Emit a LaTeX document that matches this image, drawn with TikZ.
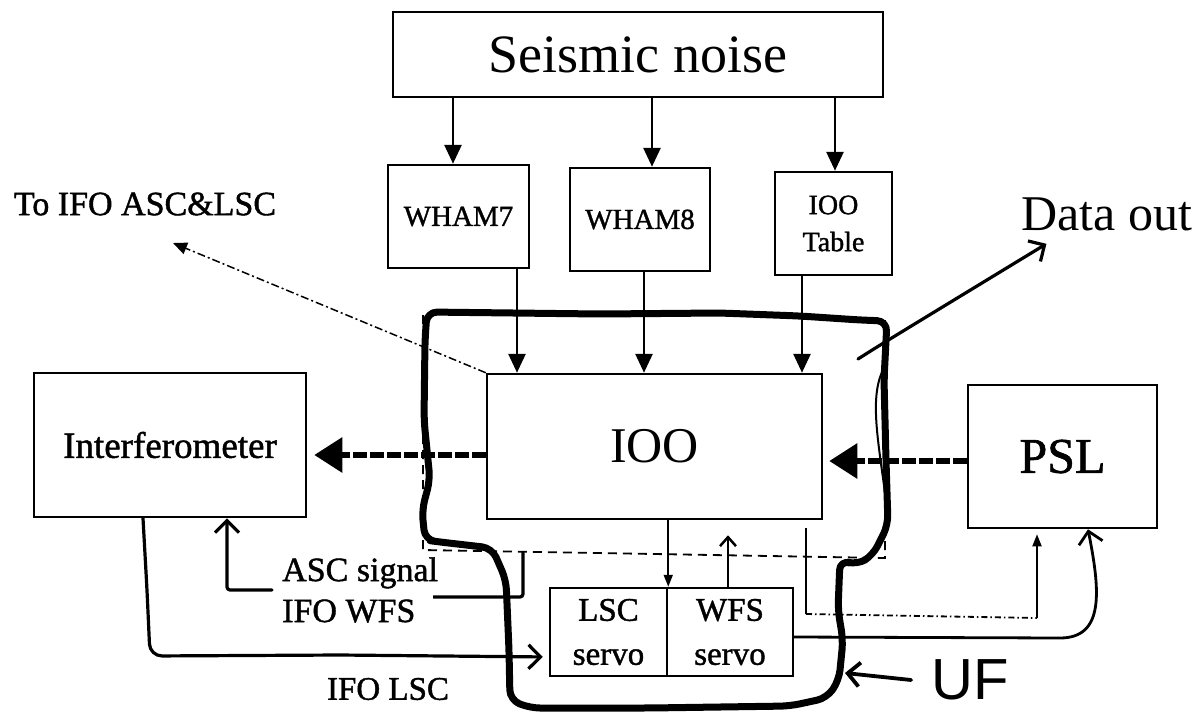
\documentclass[tikz,border=0pt]{standalone}
\usepackage{fontspec}
\setmainfont{Liberation Serif}
\newfontfamily\heavy[FakeBold=1.2]{Liberation Serif}
\newfontfamily\handfont{Liberation Sans}
\usetikzlibrary{arrows.meta,calc}
\newcommand\fsz[2]{\fontsize{#1pt}{#2pt}\selectfont}
\begin{document}
\begin{tikzpicture}[x=1pt,y=-1pt,
  box/.style={draw,line width=2.5pt,inner sep=0pt,align=center},
  solidarr/.style={line width=2.8pt,-{Triangle[length=19pt,width=17pt]}},
  thinarr/.style={line width=1.8pt,-{Triangle[length=12pt,width=9pt]}},
  handarr/.style={line width=3.2pt,line cap=round,line join=round,-{Straight Barb[length=12pt,width=24pt]}},
  beam/.style={line width=6pt,dash pattern=on 14pt off 3pt,-{Triangle[length=28pt,width=34pt]}},
  outline/.style={line width=7pt,rounded corners=10pt,line join=round},
  lbl/.style={inner sep=0pt,align=left}]

\useasboundingbox (0,0) rectangle (1195,713);
\fill[white] (0,0) rectangle (1195,713);

% boxes
\node[box,minimum width=490pt,minimum height=85pt,font=\fsz{54}{60}] (seis) at (638,54.5) {Seismic noise};
\node[box,minimum width=141pt,minimum height=103pt,font=\heavy\fsz{29}{34}] (w7) at (458.5,216.5) {WHAM7};
\node[box,minimum width=140pt,minimum height=103pt,font=\heavy\fsz{29}{34}] (w8) at (640,219.5) {WHAM8};
\node[box,minimum width=117pt,minimum height=103pt,font=\heavy\fsz{28}{37}] (tbl) at (833.5,223.5) {IOO\\Table};
\node[box,minimum width=335pt,minimum height=145pt,font=\fsz{50}{60}] (ioo) at (654.5,446.5) {IOO};
\node[box,minimum width=272pt,minimum height=144pt,font=\heavy\fsz{37}{44}] (ifo) at (170,445) {Interferometer};
\node[box,minimum width=189pt,minimum height=143pt,font=\heavy\fsz{50}{60}] (psl) at (1062.5,456.5) {PSL};
\node[box,minimum width=117pt,minimum height=88pt,font=\heavy\fsz{33}{44}] (lsc) at (608.5,632) {LSC\\servo};
\node[box,minimum width=126pt,minimum height=88pt,font=\heavy\fsz{33}{44}] (wfs) at (730,632) {WFS\\servo};

% labels
\node[lbl,font=\heavy\fsz{34}{41}] (toifo) at (145,204) {To IFO ASC\&LSC};
\node[lbl,font=\fsz{50}{60}] (dout) at (1107,214) {Data out};
\node[lbl,anchor=west,font=\heavy\fsz{34}{41}] (asc) at (282,590) {ASC signal\\IFO WFS};
\node[lbl,font=\heavy\fsz{33}{40}] (ifolsc) at (388,689) {IFO LSC};
\node[lbl,font=\handfont\fsz{58}{64}] (uf) at (970,680) {UF};

% free ends
\coordinate (toarr) at (173,243);
\coordinate (dstart) at (858,359);
\coordinate (dbot) at (523,552);
\coordinate (wfsend) at (433,597);
\coordinate (ufend) at (845,673);

% dashed enclosure
\draw[line width=1.8pt,dash pattern=on 9pt off 6pt] (423,315) -- (423,550) -- (885,558) -- (885,320);

% UF outline
\draw[outline] (427,312) -- (600,314) -- (720,313) -- (800,316) -- (860,320) -- (887,321)
  -- (884,380) -- (886,460) -- (888,525) -- (873,555) -- (857,565) -- (840,560)
  -- (838,610) -- (843,640) -- (839,680) -- (827,698) -- (790,706) -- (650,708)
  -- (530,708) -- (510,700) -- (509,650) -- (506,580) -- (492,548) -- (440,542)
  -- (425,540) -- (422,510) -- (430,480) -- (424,420) -- (425,340) -- cycle;
\draw[line width=2pt] (882,372) .. controls (870,400) and (878,440) .. (886,500);

% seismic arrows
\draw[solidarr] (seis.south -| 453,0) -- (w7.north -| 453,0);
\draw[solidarr] (seis.south -| 652,0) -- (w8.north -| 652,0);
\draw[solidarr] (seis.south -| 835,0) -- (tbl.north -| 835,0);
\draw[solidarr] (w7.south -| 517,0) -- (ioo.north -| 517,0);
\draw[solidarr] (w8.south -| 644,0) -- (ioo.north -| 644,0);
\draw[solidarr] (tbl.south -| 802,0) -- (ioo.north -| 802,0);

% beams
\draw[beam,shorten >=7pt] (ioo.west |- 0,455) -- (ifo.east |- 0,455);
\draw[beam,shorten >=6pt] (psl.west |- 0,461) -- (ioo.east |- 0,461);

% to IFO ASC&LSC
\draw[line width=1.5pt,dash pattern=on 8pt off 3pt on 2pt off 3pt,-{Triangle[length=14pt,width=12pt]}] (ioo.north west) -- (toarr);

% IFO LSC
\draw[handarr,rounded corners=12pt,shorten >=6pt] (ifo.south -| 143,0) -- (147,590) -- (150,656) -- (340,655) -- (lsc.west |- 0,657);

% ASC signal
\draw[handarr,rounded corners=3pt] ([xshift=-10pt]asc.west) -| (ifo.south -| 227,0);
\draw[line width=3.2pt,rounded corners=3pt] (dbot) |- (wfsend);

% IOO to LSC servo
\draw[thinarr] (ioo.south -| lsc.east) -- (lsc.north east);
% WFS servo up
\draw[line width=2.5pt,line cap=round,-{Straight Barb[length=9pt,width=16pt]},shorten >=15pt] (wfs.north -| 728,0) -- (ioo.south -| 728,0);

% IOO to PSL
\draw[line width=1.8pt] ([yshift=-8pt]ioo.south -| 806,0) -- (806,614);
\draw[line width=1.8pt,dash pattern=on 6pt off 3pt on 1.5pt off 3pt] (806,614) -- (1037,618);
\draw[thinarr,shorten >=5pt] (1037,618) -- (psl.south -| 1037,0);

% WFS servo to PSL
\draw[handarr,line width=2.8pt] (wfs.east |- 0,637) -- (1060,638) .. controls (1105,638) and (1100,590) .. (psl.south -| 1088,0);

% Data out
\draw[handarr] (dstart) .. controls (880,345) .. ([xshift=25pt,yshift=-13pt]dout.south west);

% UF arrow
\draw[handarr,line width=3.8pt] ([xshift=-20pt]uf.west) -- (ufend);
\end{tikzpicture}
\end{document}
